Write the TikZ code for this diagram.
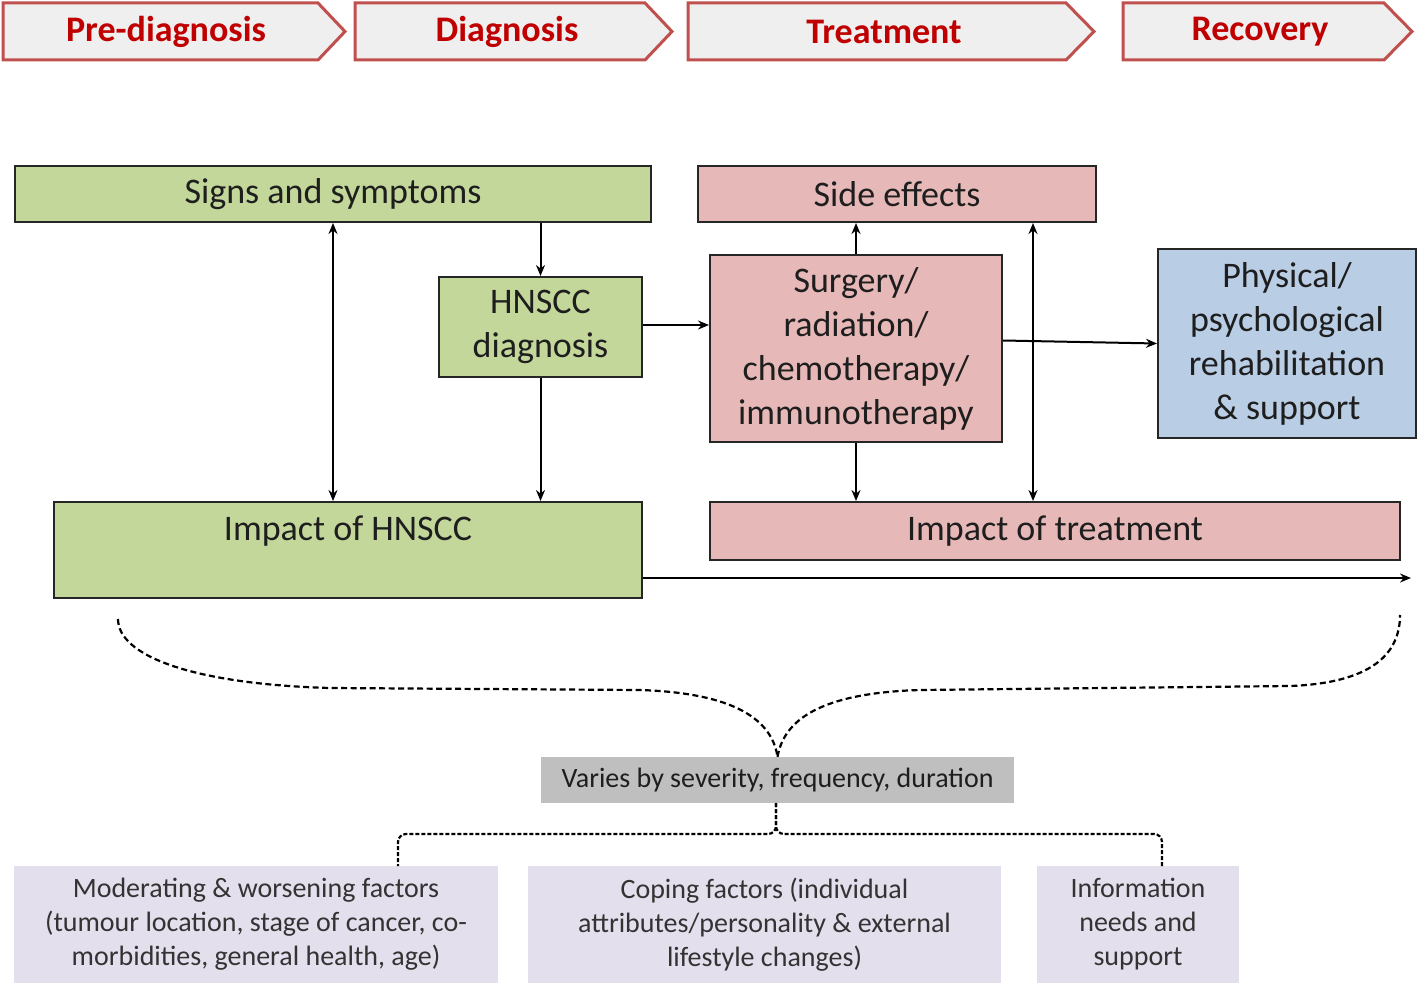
\documentclass[tikz,border=0pt]{standalone}
\usepackage{fontspec}
\setmainfont{Carlito}
\usetikzlibrary{arrows.meta,calc}
\definecolor{chevfill}{HTML}{EFEFEF}
\definecolor{chevline}{HTML}{C0504D}
\definecolor{chevtext}{HTML}{C00000}
\definecolor{greenbox}{HTML}{C4D79B}
\definecolor{pinkbox}{HTML}{E6B9B8}
\definecolor{bluebox}{HTML}{B9CDE5}
\definecolor{graybox}{HTML}{BFBFBF}
\definecolor{lavbox}{HTML}{E4DFEC}
\definecolor{maintext}{HTML}{1E1E1E}
\definecolor{subtext}{HTML}{333333}
\tikzset{
  chevron/.style={fill=chevfill, draw=chevline, line width=3pt, line join=miter},
  chevlabel/.style={text=chevtext, font=\bfseries\fontsize{36}{44}\selectfont, inner sep=0pt},
  box/.style={draw=black!85, line width=2pt, inner sep=0pt, align=center, text=maintext,
    font=\fontsize{36}{44}\selectfont},
  subbox/.style={inner sep=0pt, align=center, text=subtext, fill=lavbox,
    font=\fontsize{28}{34}\selectfont},
  arr/.style={line width=2pt, -{Stealth[length=11pt,width=9pt]}},
  darr/.style={line width=2pt, {Stealth[length=11pt,width=9pt]}-{Stealth[length=11pt,width=9pt]}},
  dashbrace/.style={line width=2.2pt, dash pattern=on 6pt off 3.5pt},
  dashfork/.style={line width=2.2pt, dash pattern=on 4pt off 2pt, rounded corners=8pt},
}
\begin{document}
\begin{tikzpicture}[x=1pt,y=-1pt]
\useasboundingbox (0,0) rectangle (1418,987);
% chevrons
\draw[chevron] (3,3) -- (318,3) -- (345,31.5) -- (318,60) -- (3,60) -- cycle;
\node[chevlabel] (c1) at (166,31.5) {Pre-diagnosis};
\draw[chevron] (355,3) -- (645,3) -- (672,31.5) -- (645,60) -- (355,60) -- cycle;
\node[chevlabel] (c2) at (507,31.5) {Diagnosis};
\draw[chevron] (688,3) -- (1066,3) -- (1094,31.5) -- (1066,60) -- (688,60) -- cycle;
\node[chevlabel] (c3) at (884,31.5) {Treatment};
\draw[chevron] (1123,3) -- (1384,3) -- (1412,31.5) -- (1384,60) -- (1123,60) -- cycle;
\node[chevlabel] (c4) at (1260,31.5) {Recovery};
% main boxes
\node[box, fill=greenbox, minimum width=636pt, minimum height=56pt] (signs) at (333,194) {Signs and symptoms};
\node[box, fill=pinkbox, minimum width=398pt, minimum height=56pt] (side) at (897,194) {Side effects};
\node[box, fill=greenbox, minimum width=203pt, minimum height=100pt] (diag) at (540.5,327) {HNSCC\\diagnosis};
\node[box, fill=pinkbox, minimum width=292pt, minimum height=187pt] (surg) at (856,348.5) {Surgery/\\radiation/\\chemotherapy/\\immunotherapy};
\node[box, fill=bluebox, minimum width=258pt, minimum height=189pt] (phys) at (1287,343.5) {Physical/\\psychological\\rehabilitation\\\& support};
\node[box, fill=greenbox, minimum width=588pt, minimum height=96pt] (impH) at (348,550) {};
\node[inner sep=0pt, text=maintext, font=\fontsize{36}{44}\selectfont] (impHtext) at (348,531) {Impact of HNSCC};
\node[box, fill=pinkbox, minimum width=690pt, minimum height=58pt] (impT) at (1055,531) {Impact of treatment};
% arrows
\draw[darr] (signs.south) -- (signs.south |- impH.north);
\draw[arr] (diag.north |- signs.south) -- (diag.north);
\draw[arr] (diag.south) -- (diag.south |- impH.north);
\draw[arr] ($(diag.east)+(0,-2)$) -- ($(diag.east -| surg.west)+(0,-2)$);
\draw[arr] (surg.north) -- (surg.north |- side.south);
\draw[arr] (surg.south) -- (surg.south |- impT.north);
\draw[darr] ([xshift=136pt]side.south) -- ([xshift=136pt]side.south |- impT.north);
\draw[arr] ($(surg.east)+(0,-8)$) -- (phys.west);
\coordinate (timeend) at (1411,578);
\draw[arr] ($(impH.east)+(0,28)$) -- (timeend);
% varies box
\node[inner sep=0pt, fill=graybox, text=maintext, minimum width=473pt, minimum height=46pt,
  font=\fontsize{28}{32}\selectfont] (vary) at (777.5,780) {Varies by severity, frequency, duration};
% dashed brace
\coordinate (bl) at (118,619);
\coordinate (br) at (1400,615);
\draw[dashbrace] (bl) .. controls (118,655) and (190,684) .. (330,688)
  -- (640,690) .. controls (735,693) and (772,720) .. (vary.north);
\draw[dashbrace] (vary.north) .. controls (784,720) and (820,693) .. (920,690)
  -- (1290,686) .. controls (1370,683) and (1400,655) .. (br);
% bottom boxes
\node[subbox, minimum width=484pt, minimum height=117pt] (mod) at (256,924.5) {Moderating \& worsening factors\\(tumour location, stage of cancer, co-\\morbidities, general health, age)};
\node[subbox, minimum width=473pt, minimum height=117pt] (cope) at (764.5,924.5) {Coping factors (individual\\attributes/personality \& external\\lifestyle changes)};
\node[subbox, minimum width=202pt, minimum height=117pt] (info) at (1138,924.5) {Information\\needs and\\support};
% dashed fork
\coordinate (forkc) at (776,834);
\draw[dashfork] (vary.south -| forkc) -- (forkc) -| (398,866);
\draw[dashfork] (vary.south -| forkc) -- (forkc) -| (1162,866);
\end{tikzpicture}
\end{document}
